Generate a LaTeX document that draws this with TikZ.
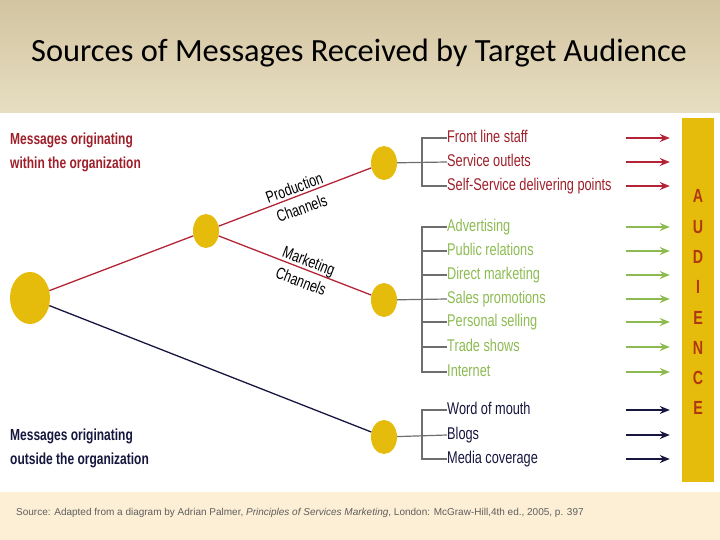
\documentclass[tikz,border=0pt]{standalone}
\usepackage{fontspec}
\setmainfont{Liberation Sans}
\newfontfamily\titlefont{Carlito}
\newfontfamily\condfont[FakeStretch=0.75]{Liberation Sans}
\usetikzlibrary{
  positioning, calc, arrows.meta, shapes.geometric
}
\definecolor{mydarkred}{HTML}{9E1F2A}
\definecolor{myred}{HTML}{B32536}
\definecolor{mygreen}{HTML}{8DBB52}
\definecolor{mynavy}{HTML}{16163F}
\definecolor{myyellow}{HTML}{E5BC0C}
\definecolor{myrust}{HTML}{B0380F}
\definecolor{mytan}{HTML}{D2C4A0}
\definecolor{mylighttan}{HTML}{E7DEC2}
\definecolor{mypeach}{HTML}{FCEFD5}
\definecolor{mygray}{HTML}{6E6E6E}
\tikzset{
	bignode/.style={ellipse, fill=myyellow, minimum width=40pt, minimum height=52pt, inner sep=0pt},
	smallnode/.style={ellipse, fill=myyellow, minimum width=26pt, minimum height=34pt, inner sep=0pt}
}
\tikzset{
	itemtext/.style={anchor=west, inner sep=0pt, text height=0.9em, text depth=0pt,
			font=\condfont\fontsize{17}{20}\selectfont},
	prodtext/.style={itemtext, text=mydarkred},
	mkttext/.style={itemtext, text=mygreen},
	outtext/.style={itemtext, text=mynavy}
}
\tikzset{
	bracketline/.style={draw=mygray, line width=1.2pt},
	channeltext/.style={align=center, inner sep=0pt, font=\condfont\fontsize{16.5}{22}\selectfont},
	sidetext/.style={anchor=west, align=left, inner sep=0pt, font=\condfont\bfseries\fontsize{16}{24}\selectfont}
}

\begin{document}
\begin{tikzpicture}[x=1pt, y=-1pt]

			\useasboundingbox (0,0) rectangle (720,540);

			% background bands
			\begin{scope}
				\shade[top color=mytan, bottom color=mylighttan] (0,0) rectangle (720,113);
				\fill[mypeach] (0,492) rectangle (720,540);
				\node[font=\titlefont\fontsize{32.4}{38}\selectfont] (title) at (359,53) {Sources of Messages Received by Target Audience};
				\node[anchor=west, inner sep=0pt, text=mygray!85!black, font=\fontsize{10}{12}\selectfont] (source) at (16,513)
					{Source: Adapted from a diagram by Adrian Palmer, \textit{Principles of Services Marketing}, London: McGraw-Hill,4th ed., 2005, p. 397};
			\end{scope}

			% tree of channels
			\begin{scope}
				\node[bignode] (root) at (30,298) {};
				\node[smallnode] (mid) at (206,231) {};
				\node[smallnode] (prod) at (384,163) {};
				\node[smallnode] (mkt) at (384,300) {};
				\node[smallnode] (out) at (384,437) {};

				\draw[myred, line width=1.3pt] (root) -- (mid);
				\draw[myred, line width=1.3pt] (mid) -- (prod);
				\draw[myred, line width=1.3pt] (mid) -- (mkt);
				\draw[mynavy, line width=1.3pt] (root) -- (out);

				\node[channeltext, rotate=20] (prodlabel) at (298,198) {Production\\Channels};
				\node[channeltext, rotate=-21] (mktlabel) at (305,271) {Marketing\\Channels};

				\node[sidetext, text=mydarkred] (inside) at (10,152) {Messages originating\\within the organization};
				\node[sidetext, text=mynavy] (outside) at (10,448) {Messages originating\\outside the organization};
			\end{scope}

			% items
			\begin{scope}
				\node[prodtext] (p1) at (447,138) {Front line staff};
				\node[prodtext] (p2) at (447,162) {Service outlets};
				\node[prodtext] (p3) at (447,186) {Self-Service delivering points};

				\node[mkttext] (m1) at (447,227) {Advertising};
				\node[mkttext] (m2) at (447,251) {Public relations};
				\node[mkttext] (m3) at (447,275) {Direct marketing};
				\node[mkttext] (m4) at (447,299) {Sales promotions};
				\node[mkttext] (m5) at (447,322) {Personal selling};
				\node[mkttext] (m6) at (447,347) {Trade shows};
				\node[mkttext] (m7) at (447,372) {Internet};

				\node[outtext] (o1) at (447,410) {Word of mouth};
				\node[outtext] (o2) at (447,435) {Blogs};
				\node[outtext] (o3) at (447,459) {Media coverage};

				\draw[bracketline] (prod) -- (p2.west);
				\draw[bracketline] (p1.west) -- ++(-25,0) |- (p3.west);

				\draw[bracketline] (mkt) -- (m4.west);
				\draw[bracketline] (m1.west) -- ++(-25,0) |- (m7.west);
				\foreach \n in {m2,m3,m5,m6}
					\draw[bracketline] (\n.west) -- ++(-25,0);

				\draw[bracketline] (out) -- (o2.west);
				\draw[bracketline] (o1.west) -- ++(-25,0) |- (o3.west);
			\end{scope}

			% audience bar
			\begin{scope}
				\node[fill=myyellow, minimum width=32pt, minimum height=364pt, inner sep=0pt] (aud) at (698,300) {};
				\foreach \l [count=\i] in {A,U,D,I,E,N,C,E}
					\node[text=myrust, font=\condfont\bfseries\fontsize{19}{21}\selectfont] (a\i) at (698,166+30.3*\i) {\l};

				\foreach \n/\c in {p1/myred, p2/myred, p3/myred,
						m1/mygreen, m2/mygreen, m3/mygreen, m4/mygreen, m5/mygreen, m6/mygreen, m7/mygreen,
						o1/mynavy, o2/mynavy, o3/mynavy}
					\draw[\c, line width=1.3pt, -{Stealth[length=10pt, width=8pt]}]
						($(\n.west -| aud.west)+(-56,0)$) -- ($(\n.west -| aud.west)+(-12,0)$);
			\end{scope}

		\end{tikzpicture}
\end{document}
